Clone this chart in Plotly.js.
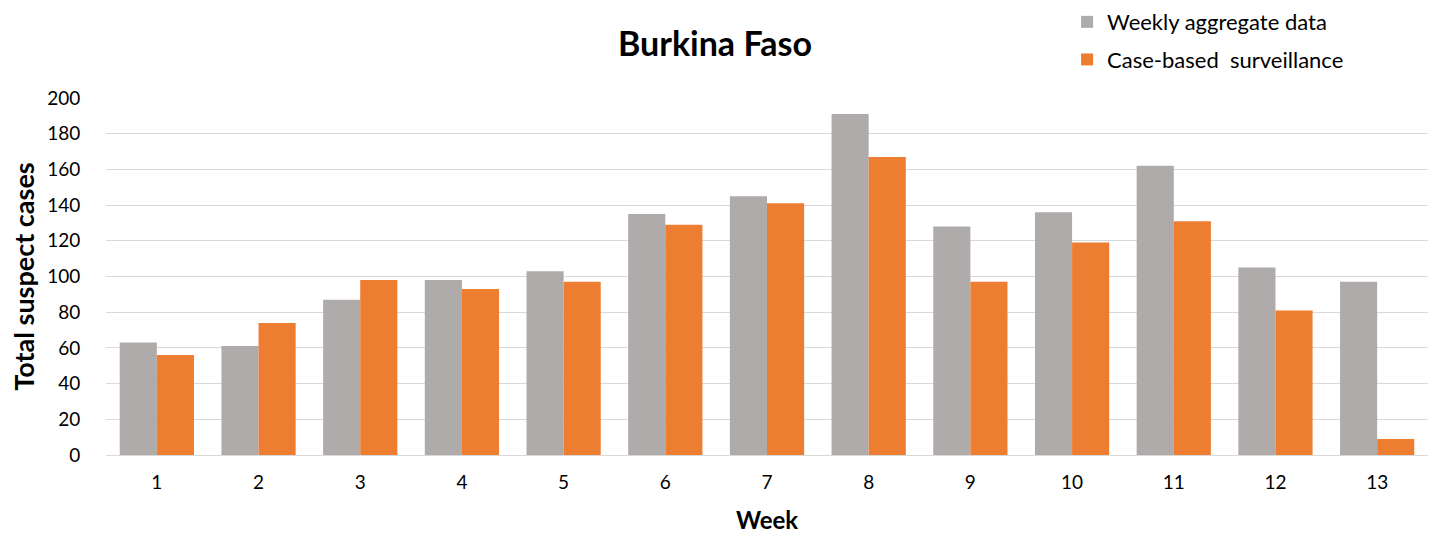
<!DOCTYPE html>
<html>
<head>
<meta charset="utf-8">
<script src="https://cdn.plot.ly/plotly-3.0.1.min.js"></script>
<style>html,body{margin:0;padding:0;background:#fff}#chart{width:1430px;height:535px}</style>
</head>
<body>
<div id="chart"></div>
<script>
const weeks = ['1','2','3','4','5','6','7','8','9','10','11','12','13'];
const weeklyAggregate = [63, 61, 87, 98, 103, 135, 145, 191, 128, 136, 162, 105, 97];
const caseBased = [56, 74, 98, 93, 97, 129, 141, 167, 97, 119, 131, 81, 9];
const seriesNames = ['Weekly aggregate data', 'Case-based  surveillance'];
const yTicks = [0, 20, 40, 60, 80, 100, 120, 140, 160, 180, 200];

const font = 'Lato, "Open Sans", sans-serif';
const data = [
  {type:'bar', x: weeks, y: weeklyAggregate, name: seriesNames[0], legendgroup:'a', marker:{color:'#afabab'}},
  {type:'bar', x: weeks, y: caseBased, name: seriesNames[1], legendgroup:'b', marker:{color:'#ed7d31'}}
];
const layout = {
  width:1430, height:535,
  margin:{l:106, r:2, t:97, b:80},
  paper_bgcolor:'#fff', plot_bgcolor:'#fff',
  font:{family:font, size:18, color:'#000'},
  title:{text:'<b>Burkina Faso</b>', font:{family:font, size:34, color:'#000'}, x:0.5, xanchor:'center', y:0.918, yanchor:'middle'},
  barmode:'group', bargap:0.27, bargroupgap:0,
  showlegend:true,
  legend:{x:0.727, xref:'paper', y:1.268, yref:'paper', xanchor:'left', yanchor:'top', font:{family:font, size:22, color:'#000'}, tracegroupgap:6, itemwidth:30, traceorder:'grouped'},
  xaxis:{type:'category', showgrid:false, showline:true, linecolor:'#d9d9d9', linewidth:1,
         ticks:'outside', ticklen:10, tickcolor:'rgba(0,0,0,0)', tickfont:{size:19},
         title:{text:'<b>Week</b>', font:{size:24}, standoff:20}},
  yaxis:{range:[0,200], tickvals:yTicks, showgrid:true, gridcolor:'#d9d9d9', gridwidth:1, zeroline:true, zerolinecolor:'#d9d9d9',
         ticks:'outside', ticklen:21, tickcolor:'rgba(0,0,0,0)', tickfont:{size:19},
         title:{text:'<b>Total suspect cases</b>', font:{size:27}, standoff:4}}
};
Plotly.newPlot('chart', data, layout, {displayModeBar:false, staticPlot:true});
</script>
</body>
</html>
